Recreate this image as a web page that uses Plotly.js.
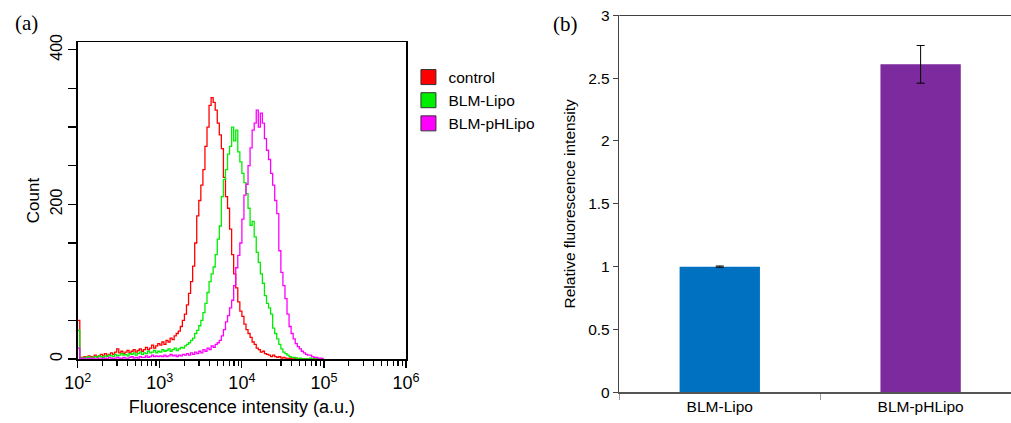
<!DOCTYPE html>
<html>
<head>
<meta charset="utf-8">
<script src="https://cdn.plot.ly/plotly-3.0.1.min.js"></script>
<style>html,body{margin:0;padding:0;background:#fff;}#chart{width:1011px;height:423px;}</style>
</head>
<body>
<div id="chart"></div>
<script>
// ---- Panel (a): flow cytometry histograms ----
const intensity = [
  100,105.9,112.2,118.9,125.9,133.4,141.3,149.6,158.5,167.9,
  177.8,188.4,199.5,211.3,223.9,237.1,251.2,266.1,281.8,298.5,
  316.2,335,354.8,375.8,398.1,421.7,446.7,473.2,501.2,530.9,
  562.3,595.7,631,668.3,707.9,749.9,794.3,841.4,891.3,944.1,
  1000,1059,1122,1189,1259,1334,1413,1496,1585,1679,
  1778,1884,1995,2113,2239,2371,2512,2661,2818,2985,
  3162,3350,3548,3758,3981,4217,4467,4732,5012,5309,
  5623,5957,6310,6683,7079,7499,7943,8414,8913,9441,
  10000,10593,11220,11885,12589,13335,14125,14962,15849,16788,
  17783,18836,19953,21135,22387,23714,25119,26607,28184,29854,
  31623,33497,35481,37584,39811,42170,44668,47315,50119,53088,
  56234,59566,63096,66834,70795,74989,79433,84140,89125,94406,
  100000
];
const countControl = [
  50,2,1,3,2,4,3,2,5,3,
  4,6,4,7,5,6,8,6,9,13,
  8,10,7,9,11,8,10,12,9,11,
  13,10,12,15,12,14,18,14,17,20,
  18,22,19,24,22,27,25,30,33,36,
  42,50,58,70,85,100,120,150,185,205,
  225,245,275,300,328,338,332,322,305,290,
  272,235,210,195,168,135,110,92,74,62,
  55,45,38,33,28,22,19,14,12,9,
  10,7,6,5,3,5,3,2,3,1,
  2,1,0,1,0,0,1,0,0,0,
  0,0,0,0,0,0,0,0,0,0,0
];
const countBLMLipo = [
  37,1,2,1,2,3,1,2,3,2,
  4,3,2,4,3,5,4,3,6,4,
  5,7,5,6,4,7,6,8,5,7,
  9,6,8,7,10,8,9,11,8,10,
  9,12,10,11,13,10,12,14,11,13,
  15,14,17,19,21,24,27,33,37,43,
  50,60,72,86,100,110,119,135,155,172,
  210,232,245,265,275,300,282,296,268,255,
  240,228,214,195,173,178,158,138,125,110,
  98,82,72,66,58,40,33,26,19,13,
  9,7,5,3,2,2,1,0,1,0,
  0,0,0,1,0,0,0,0,0,0,0
];
const countBLMpHLipo = [
  14,0,1,0,0,1,0,1,0,0,
  1,1,0,1,0,2,1,0,1,2,
  1,0,2,1,1,2,3,1,2,1,
  3,2,2,4,2,3,5,3,4,3,
  4,3,5,3,4,6,4,5,3,5,
  4,6,5,7,5,8,6,9,7,10,
  8,12,10,14,12,17,15,19,21,24,
  30,38,48,56,66,76,95,118,134,150,
  181,212,226,250,273,296,305,322,300,318,
  305,285,270,258,240,225,205,188,140,112,
  95,78,58,42,33,26,20,16,13,10,
  8,6,5,5,3,2,2,1,1,0,0
];
const histNames = ['control','BLM-Lipo','BLM-pHLipo'];
const histColors = ['#ff0000','#00ee00','#ff00ff'];
const xTickVals = [100,1000,10000,100000,1000000];
const xTickText = ['10<sup>2</sup>','10<sup>3</sup>','10<sup>4</sup>','10<sup>5</sup>','10<sup>6</sup>'];
const yTickVals = [0,50,100,150,200,250,300,350,400];
const yTickText = ['0','','','','200','','','','400'];

// ---- Panel (b): relative fluorescence ----
const groups = ['BLM-Lipo','BLM-pHLipo'];
const relFluor = [1.0, 2.61];
const relErr = [0.005, 0.15];
const barColors = ['#0070c0','#7c2a9e'];

const minorVals = [];
[100,1000,10000,100000].forEach(d => { for (let m = 2; m <= 9; m++) minorVals.push(d*m); });

const font = 'Liberation Sans, Arial, sans-serif';
const series = [countControl, countBLMLipo, countBLMpHLipo];
const traces = [];
series.forEach((s, i) => {
  traces.push({
    type:'scatter', mode:'lines', x: intensity, y: s, xaxis:'x', yaxis:'y',
    line:{color: histColors[i], width:1.3, shape:'hv'}, showlegend:false, hoverinfo:'skip'
  });
});
histNames.forEach((n, i) => {
  traces.push({
    type:'scatter', mode:'markers', x:[null], y:[null], xaxis:'x', yaxis:'y', name:n,
    marker:{symbol:'square', size:15, color: histColors[i], line:{color:'#333', width:1}}
  });
});
traces.push({
  type:'bar', x: groups, y: relFluor, xaxis:'x2', yaxis:'y2', width:0.4,
  marker:{color: barColors}, showlegend:false,
  error_y:{type:'data', array: relErr, visible:true, color:'#000', thickness:1, width:4}
});

const layout = {
  width:1011, height:423,
  margin:{l:0, r:0, t:0, b:0},
  paper_bgcolor:'#fff', plot_bgcolor:'#fff',
  font:{family: font, color:'#000'},
  showlegend:true,
  legend:{x:0.404, y:0.857, xanchor:'left', yanchor:'top', font:{size:15.5, family:font},
          bgcolor:'rgba(0,0,0,0)', borderwidth:0, tracegroupgap:0},
  xaxis:{
    type:'log', range:[2,6], domain:[0.0769,0.4016], anchor:'y',
    showline:true, linecolor:'#000', linewidth:1.5, mirror:true,
    ticks:'outside', ticklen:7, tickwidth:1.2, tickcolor:'#000',
    tickmode:'array', tickvals: xTickVals, ticktext: xTickText,
    tickfont:{size:18, family:font},
    minor:{tickmode:'array', tickvals: minorVals, ticks:'outside', ticklen:5, tickwidth:1.2, tickcolor:'#000', showgrid:false},
    showgrid:false, zeroline:false,
    title:{text:'Fluorescence intensity (a.u.)', font:{size:18, family:font}, standoff:8}
  },
  yaxis:{
    range:[0,410], domain:[0.1513,0.9007], anchor:'x',
    showline:true, linecolor:'#000', linewidth:1.5, mirror:true,
    ticks:'outside', ticklen:8, tickwidth:1.2, tickcolor:'#000',
    tickmode:'array', tickvals: yTickVals, ticktext: yTickText, tickangle:-90,
    tickfont:{size:16, family:font},
    showgrid:false, zeroline:false,
    title:{text:'Count', font:{size:17, family:font}, standoff:4}
  },
  xaxis2:{
    type:'category', range:[-0.5,1.45], domain:[0.6126,1], anchor:'y2',
    showline:true, linecolor:'#555', linewidth:1.5,
    ticks:'outside', tickson:'boundaries', ticklen:6, tickcolor:'#999', tickwidth:1.2,
    tickfont:{size:15.5, family:font}, showgrid:false, zeroline:false
  },
  yaxis2:{
    range:[0,3], domain:[0.0726,0.9638], anchor:'x2',
    showline:true, linecolor:'#444', linewidth:1.5,
    ticks:'outside', ticklen:5, tickcolor:'#444', dtick:0.5, tick0:0,
    tickfont:{size:15.5, family:font}, showgrid:false, zeroline:false,
    title:{text:'Relative fluorescence intensity', font:{size:15.5, family:font}, standoff:8}
  },
  shapes:[
    {type:'line', xref:'x2 domain', yref:'y2', x0:0, x1:1, y0:3, y1:3, line:{color:'#000', width:1.5}}
  ],
  annotations:[
    {text:'(a)', xref:'paper', yref:'paper', x:26/1011, y:1-23/423, xanchor:'center', yanchor:'middle', showarrow:false,
     font:{family:'Liberation Serif, Times New Roman, serif', size:21}},
    {text:'(b)', xref:'paper', yref:'paper', x:565/1011, y:1-24/423, xanchor:'center', yanchor:'middle', showarrow:false,
     font:{family:'Liberation Serif, Times New Roman, serif', size:21}}
  ]
};

Plotly.newPlot('chart', traces, layout, {displayModeBar:false, staticPlot:true});
</script>
</body>
</html>
